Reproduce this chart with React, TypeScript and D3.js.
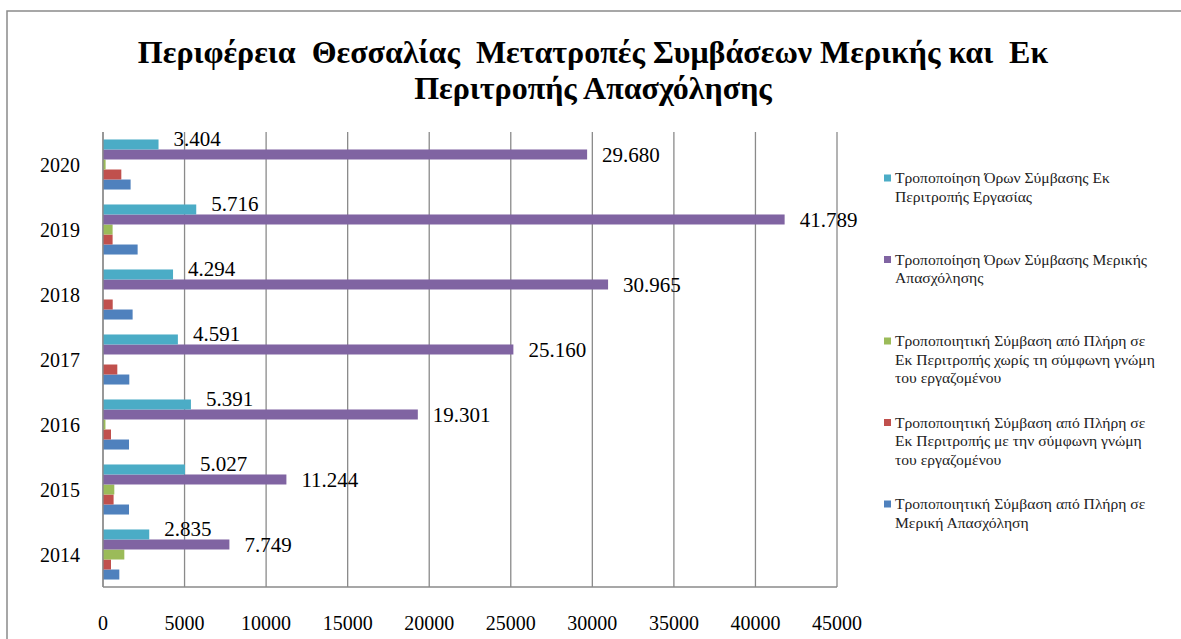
import * as d3 from "d3";

// categories (top of chart is the latest year)
const years = ["2014", "2015", "2016", "2017", "2018", "2019", "2020"];

// series values per year, 2014 -> 2020
const fullToPart = [1000, 1595, 1595, 1613, 1816, 2123, 1693];
const rotationWithConsent = [490, 650, 490, 877, 595, 589, 1123];
const rotationNoConsent = [1307, 693, 150, 0, 0, 589, 160];
const partTimeTerms = [7749, 11244, 19301, 25160, 30965, 41789, 29680];
const rotationTerms = [2835, 5027, 5391, 4591, 4294, 5716, 3404];

const seriesNames = [
  ["Τροποποιητική Σύμβαση από Πλήρη σε", "Μερική Απασχόληση"],
  ["Τροποποιητική Σύμβαση από Πλήρη σε", "Εκ Περιτροπής με την σύμφωνη γνώμη", "του εργαζομένου"],
  ["Τροποποιητική Σύμβαση από Πλήρη σε", "Εκ Περιτροπής χωρίς τη σύμφωνη γνώμη", "του εργαζομένου"],
  ["Τροποποίηση Όρων Σύμβασης Μερικής", "Απασχόλησης"],
  ["Τροποποίηση Όρων Σύμβασης Εκ", "Περιτροπής Εργασίας"],
];
const seriesValues = [fullToPart, rotationWithConsent, rotationNoConsent, partTimeTerms, rotationTerms];
const seriesColors = ["#4F81BD", "#C0504D", "#9BBB59", "#8064A2", "#4BACC6"];
const labelledSeries = [3, 4];

const titleLines = ["Περιφέρεια  Θεσσαλίας  Μετατροπές Συμβάσεων Μερικής και  Εκ", "Περιτροπής Απασχόλησης"];

const W = 1181;
const H = 639;
const grid = "#8a8a8a";

const greek = d3.formatLocale({ decimal: ",", thousands: ".", grouping: [3], currency: ["", "€"] });
const fmt = greek.format(",");

export default function App() {
  const left = 103, right = 837, top = 132, bottom = 587;

  const x = d3.scaleLinear().domain([0, 45000]).range([left, right]);
  const y = d3.scaleBand<string>()
    .domain([...years].reverse())
    .range([top, bottom])
    .paddingInner(0.23)
    .paddingOuter(0.115);
  // bars inside a year: last series on top
  const order = d3.range(seriesValues.length).reverse();
  const inner = d3.scaleBand<number>().domain(order).range([0, y.bandwidth()]);

  const ticks = d3.range(0, 45001, 5000);

  return (
    <svg width={W} height={H}
      style={{ position: "absolute", left: 0, top: 0, background: "#fff", fontFamily: "Liberation Serif" }}>
      <rect x={7} y={11} width={1300} height={800} fill="#fff" stroke={grid} strokeWidth={1.5} />

      {titleLines.map((t, i) => (
        <text key={i} x={593} y={63 + i * 36} textAnchor="middle"
          fontWeight="bold" fontSize={32} style={{ whiteSpace: "pre" }}>{t}</text>
      ))}

      {ticks.map((t) => (
        <g key={t}>
          <line x1={x(t)} x2={x(t)} y1={top} y2={bottom} stroke={grid} strokeWidth={1.3} />
          <text x={x(t)} y={630} textAnchor="middle" fontSize={20}>{t}</text>
        </g>
      ))}
      <line x1={left} x2={right} y1={bottom} y2={bottom} stroke={grid} strokeWidth={1.3} />

      {years.map((yr, j) => (
        <g key={yr}>
          <text x={80} y={y(yr)! + y.bandwidth() / 2} dy="0.35em" textAnchor="end" fontSize={20}>{yr}</text>
          {seriesValues.map((vals, s) => (
            <rect key={s} x={x(0)} y={y(yr)! + inner(s)!} width={x(vals[j]) - x(0)}
              height={inner.bandwidth()} fill={seriesColors[s]} />
          ))}
          {labelledSeries.map((s) => (
            <text key={s} x={x(seriesValues[s][j]) + 15}
              y={y(yr)! + inner(s)! + inner.bandwidth() / 2 - (s === 4 ? 6 : 0)} dy="0.35em"
              fontSize={21}>{fmt(seriesValues[s][j])}</text>
          ))}
        </g>
      ))}
      <line x1={left} x2={left} y1={top} y2={bottom} stroke={grid} strokeWidth={1.3} />

      {order.map((s, i) => {
        const y0 = 178 + i * 81.5;
        return (
          <g key={s}>
            <rect x={884} y={y0 - 3.5} width={7} height={7} fill={seriesColors[s]} />
            {seriesNames[s].map((line, k) => (
              <text key={k} x={895} y={y0 + k * 18.5} dy="0.35em" fontSize={15.6} fill="#222">{line}</text>
            ))}
          </g>
        );
      })}
    </svg>
  );
}
